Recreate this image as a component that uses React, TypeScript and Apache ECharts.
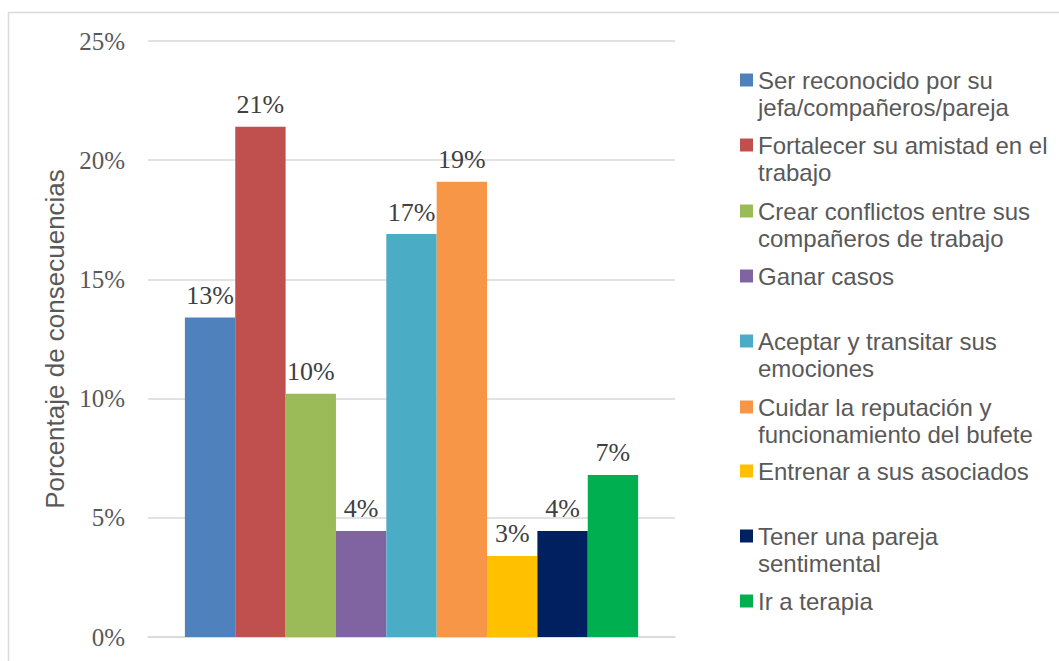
import React, { useEffect, useRef } from "react";
import * as echarts from "echarts";

// ---- data ----
const categories = ["Consecuencias"];
const seriesNames = [
  "Ser reconocido por su jefa/compañeros/pareja",
  "Fortalecer su amistad en el trabajo",
  "Crear conflictos entre sus compañeros de trabajo",
  "Ganar casos",
  "Aceptar y transitar sus emociones",
  "Cuidar la reputación y funcionamiento del bufete",
  "Entrenar a sus asociados",
  "Tener una pareja sentimental",
  "Ir a terapia",
];
const legendLines = [
  ["Ser reconocido por su", "jefa/compañeros/pareja"],
  ["Fortalecer su amistad en el", "trabajo"],
  ["Crear conflictos entre sus", "compañeros de trabajo"],
  ["Ganar casos"],
  ["Aceptar y transitar sus", "emociones"],
  ["Cuidar la reputación y", "funcionamiento del bufete"],
  ["Entrenar a sus asociados"],
  ["Tener una pareja", "sentimental"],
  ["Ir a terapia"],
];
const values = [13.4, 21.4, 10.2, 4.45, 16.9, 19.1, 3.4, 4.45, 6.8];
const yMin = 0;
const yMax = 25;
const yInterval = 5;
const axisTitle = "Porcentaje de consecuencias";

// ---- styles / layout ----
const colors = [
  "#4F81BD",
  "#C0504D",
  "#9BBB59",
  "#8064A2",
  "#4BACC6",
  "#F79646",
  "#FFC000",
  "#002060",
  "#00B050",
];
const legendFirstLineCenters = [80, 145, 211, 276, 341, 407, 471, 536, 601];
const LEGEND_LINE_H = 27;

export default function App() {
  const ref = useRef<HTMLDivElement>(null);

  useEffect(() => {
    if (!ref.current) return;
    const chart = echarts.init(ref.current, undefined, { renderer: "svg" });

    const legends = seriesNames.map((name, i) => {
      const lines = legendLines[i];
      const text = lines.length > 1 ? "\n" + lines.join("\n") : lines[0];
      const nLines = lines.length > 1 ? 3 : 1;
      return {
        data: [name],
        left: 740,
        top: legendFirstLineCenters[i] - (nLines * LEGEND_LINE_H) / 2,
        padding: 0,
        icon: "rect",
        itemWidth: 13,
        itemHeight: 13,
        selectedMode: false,
        formatter: () => text,
        textStyle: {
          fontFamily: "Liberation Sans, Arial, sans-serif",
          fontSize: 24,
          lineHeight: LEGEND_LINE_H,
          color: "#595959",
        },
      };
    });

    chart.setOption({
      animation: false,
      backgroundColor: "#ffffff",
      graphic: [
        {
          type: "rect",
          left: 6,
          top: 10,
          shape: { width: 1200, height: 800 },
          style: { fill: "none", stroke: "#D9D9D9", lineWidth: 1.5 },
          silent: true,
        },
      ],
      legend: legends,
      grid: { left: 148, right: 384, top: 41, bottom: 24 },
      xAxis: {
        type: "category",
        data: categories,
        axisLine: { show: true, lineStyle: { color: "#D9D9D9", width: 1.5 } },
        axisTick: { show: false },
        axisLabel: { show: false },
      },
      yAxis: {
        type: "value",
        min: yMin,
        max: yMax,
        interval: yInterval,
        name: axisTitle,
        nameLocation: "middle",
        nameGap: 80,
        nameTextStyle: {
          fontFamily: "Liberation Sans, Arial, sans-serif",
          fontSize: 26,
          color: "#595959",
        },
        axisLine: { show: false },
        axisTick: { show: false },
        axisLabel: {
          formatter: "{value}%",
          margin: 23,
          fontFamily: "Liberation Serif, serif",
          fontSize: 25,
          color: "#595959",
        },
        splitLine: { lineStyle: { color: "#D9D9D9", width: 1.5 } },
      },
      series: seriesNames.map((name, i) => ({
        name,
        type: "bar",
        data: [values[i]],
        barGap: "0%",
        barCategoryGap: "14%",
        itemStyle: { color: colors[i] },
        label: {
          show: true,
          position: "top",
          distance: 9,
          formatter: (p: any) => Math.round(p.value) + "%",
          fontFamily: "Liberation Serif, serif",
          fontSize: 26,
          color: "#404040",
        },
      })),
    });

    return () => chart.dispose();
  }, []);

  return (
    <div
      ref={ref}
      style={{ position: "fixed", left: 0, top: 0, width: 1059, height: 661 }}
    />
  );
}
